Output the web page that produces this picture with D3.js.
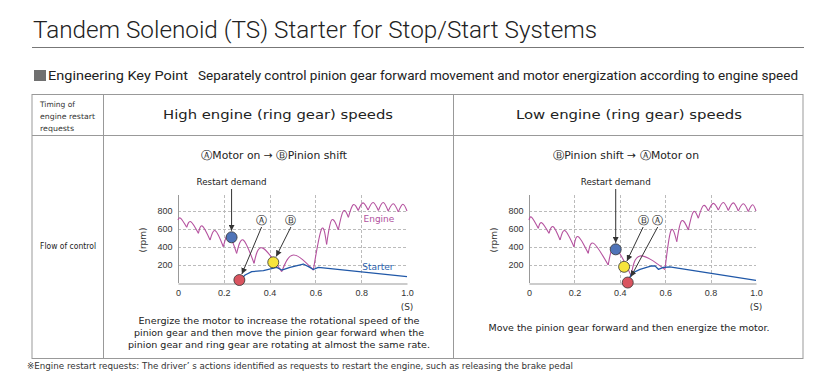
<!DOCTYPE html>
<html>
<head>
<meta charset="utf-8">
<script src="https://cdn.jsdelivr.net/npm/d3@7"></script>
<style>
body { margin: 0; background: #fff; }
svg { display: block; font-family: "DejaVu Sans", "Noto Sans", sans-serif; }
</style>
</head>
<body>
<svg width="835" height="391"></svg>
<script>
var width = 835;
var height = 391;

var xTicks = [0, 0.2, 0.4, 0.6, 0.8, 1.0];
var yTicks = [200, 400, 600, 800];

// engine speed [time (s), rpm]: valley, peak, valley, peak ...
var highEngine = [[0, 700], [0.012, 718], [0.038, 619], [0.056, 681], [0.089, 552], [0.106, 633],
    [0.140, 478], [0.163, 581], [0.198, 403], [0.222, 533], [0.256, 330], [0.285, 478],
    [0.332, 219], [0.368, 390], [0.453, 126], [0.504, 311], [0.591, 144], [0.627, 600],
    [0.649, 430], [0.671, 700], [0.700, 590], [0.722, 800], [0.744, 730], [0.765, 870],
    [0.787, 805], [0.808, 890], [0.830, 810], [0.852, 895], [0.875, 805], [0.896, 895],
    [0.918, 800], [0.940, 880], [0.962, 790], [0.982, 875], [1.0, 800]];
var highStarter = [[0.271, 33], [0.293, 89], [0.322, 126], [0.373, 137], [0.431, 174], [0.453, 144],
    [0.489, 174], [0.547, 211], [0.576, 174], [0.591, 150], [0.613, 174], [1.0, 70]];

var lowEngine = [[0, 700], [0.012, 730], [0.041, 607], [0.056, 670], [0.088, 552], [0.107, 626],
    [0.137, 478], [0.159, 581], [0.198, 403], [0.217, 515], [0.261, 330], [0.285, 440],
    [0.349, 200], [0.380, 390], [0.450, 80], [0.489, 300], [0.599, 150], [0.625, 580],
    [0.651, 459], [0.672, 690], [0.702, 589], [0.724, 790], [0.746, 720], [0.768, 860],
    [0.790, 800], [0.812, 885], [0.834, 810], [0.856, 895], [0.878, 805], [0.900, 890],
    [0.922, 800], [0.944, 880], [0.966, 795], [0.985, 870], [1.0, 800]];
var lowStarter = [[0.435, 5], [0.452, 107], [0.489, 152], [0.540, 189], [0.555, 190], [0.570, 152],
    [0.592, 174], [0.620, 178], [1.0, 30]];

// markers: restart demand (blue), A motor on (red), B pinion shift (yellow)
var highMarkers = { demand: [0.234, 508], A: [0.268, 33], B: [0.416, 230] };
var lowMarkers = { demand: [0.382, 374], A: [0.435, 5], B: [0.419, 180] };
// circled letter label spots [time, rpm]
var highLabels = { A: [0.365, 700], B: [0.493, 700] };
var lowLabels = { A: [0.567, 700], B: [0.503, 700] };

var svg = d3.select('svg');

// arrow head
svg.append('defs').append('marker')
    .attr('id', 'head')
    .attr('viewBox', '0 0 10 10')
    .attr('refX', 10).attr('refY', 5)
    .attr('markerWidth', 6).attr('markerHeight', 6)
    .attr('markerUnits', 'userSpaceOnUse')
    .attr('orient', 'auto')
    .append('path')
    .attr('d', 'M0,0L10,5L0,10z')
    .attr('fill', '#333');

// Title
svg.append('text')
    .attr('x', 33).attr('y', 38)
    .attr('font-family', 'Roboto, "Noto Sans", sans-serif')
    .attr('font-weight', 300)
    .attr('font-size', 24)
    .attr('fill', '#222')
    .attr('textLength', 564).attr('lengthAdjust', 'spacingAndGlyphs')
    .text('Tandem Solenoid (TS) Starter for Stop/Start Systems');
svg.append('line')
    .attr('x1', 32).attr('x2', 804).attr('y1', 47.5).attr('y2', 47.5)
    .attr('stroke', '#777').attr('stroke-width', 1);

// Key point line
svg.append('rect').attr('x', 34).attr('y', 70).attr('width', 12).attr('height', 11).attr('fill', '#707070');
svg.append('text')
    .attr('x', 48).attr('y', 80).attr('font-size', 13).attr('fill', '#222')
    .attr('font-family', 'Roboto, "Noto Sans", sans-serif')
    .attr('textLength', 140).attr('lengthAdjust', 'spacingAndGlyphs')
    .text('Engineering Key Point');
svg.append('text')
    .attr('x', 198).attr('y', 80).attr('font-size', 13).attr('fill', '#222')
    .attr('font-family', 'Roboto, "Noto Sans", sans-serif')
    .attr('textLength', 600).attr('lengthAdjust', 'spacingAndGlyphs')
    .text('Separately control pinion gear forward movement and motor energization according to engine speed');

// Table
var tab = { l: 32, r: 803, t: 94.5, h: 135.5, b: 358.5, c1: 103.5, c2: 453.5 };
var grid = svg.append('g').attr('stroke', '#999').attr('stroke-width', 1);
grid.append('rect').attr('x', tab.l).attr('y', tab.t).attr('width', tab.r - tab.l).attr('height', tab.b - tab.t).attr('fill', 'none');
grid.append('line').attr('x1', tab.l).attr('x2', tab.r).attr('y1', tab.h).attr('y2', tab.h);
grid.append('line').attr('x1', tab.c1).attr('x2', tab.c1).attr('y1', tab.t).attr('y2', tab.b);
grid.append('line').attr('x1', tab.c2).attr('x2', tab.c2).attr('y1', tab.t).attr('y2', tab.b);

[['Timing of', 35], ['engine restart', 55], ['requests', 34]].forEach(function (s, i) {
    svg.append('text').attr('x', 40).attr('y', 107 + i * 12)
        .attr('font-size', 7.5).attr('fill', '#333')
        .attr('textLength', s[1]).attr('lengthAdjust', 'spacingAndGlyphs').text(s[0]);
});
svg.append('text').attr('x', 40).attr('y', 249).attr('font-size', 8.5).attr('fill', '#222')
    .attr('textLength', 56).attr('lengthAdjust', 'spacingAndGlyphs').text('Flow of control');

svg.append('text').attr('x', 278).attr('y', 119).attr('font-size', 13).attr('fill', '#222')
    .attr('text-anchor', 'middle').attr('textLength', 230).attr('lengthAdjust', 'spacingAndGlyphs')
    .text('High engine (ring gear) speeds');
svg.append('text').attr('x', 629).attr('y', 119).attr('font-size', 13).attr('fill', '#222')
    .attr('text-anchor', 'middle').attr('textLength', 226).attr('lengthAdjust', 'spacingAndGlyphs')
    .text('Low engine (ring gear) speeds');

svg.append('text').attr('x', 274).attr('y', 159).attr('font-size', 10.5).attr('fill', '#222')
    .attr('text-anchor', 'middle').attr('textLength', 146).attr('lengthAdjust', 'spacingAndGlyphs')
    .text('\u24B6Motor on \u2192 \u24B7Pinion shift');
svg.append('text').attr('x', 626).attr('y', 159).attr('font-size', 10.5).attr('fill', '#222')
    .attr('text-anchor', 'middle').attr('textLength', 146).attr('lengthAdjust', 'spacingAndGlyphs')
    .text('\u24B7Pinion shift \u2192 \u24B6Motor on');

// Panels
drawPanel(178, 407, highEngine, highStarter, highMarkers, highLabels, true);
drawPanel(529, 756, lowEngine, lowStarter, lowMarkers, lowLabels, false);

function drawPanel(x0, x1, engine, starter, markers, labels, legend) {
    var x = d3.scaleLinear().domain([0, 1]).range([x0, x1]);
    var y = d3.scaleLinear().domain([0, 800]).range([283, 211]);
    var top = 195;
    var g = svg.append('g');

    // dashed grid
    g.selectAll('.hgrid').data(yTicks).enter().append('line')
        .attr('x1', x0).attr('x2', x1)
        .attr('y1', d => y(d) + 0.5).attr('y2', d => y(d) + 0.5)
        .attr('stroke', '#bbb').attr('stroke-dasharray', '3,2');
    g.selectAll('.vgrid').data(xTicks.slice(1, 5)).enter().append('line')
        .attr('x1', d => Math.round(x(d)) + 0.5).attr('x2', d => Math.round(x(d)) + 0.5)
        .attr('y1', y(0)).attr('y2', top)
        .attr('stroke', '#bbb').attr('stroke-dasharray', '3,2');

    // axes
    g.append('g')
        .attr('transform', 'translate(0,' + (y(0) + 0.5) + ')')
        .call(d3.axisBottom(x).tickValues(xTicks).tickSize(0).tickPadding(6)
            .tickFormat(d => d === 0 ? '0' : d.toFixed(1)))
        .call(a => a.select('.domain').attr('stroke', '#999'))
        .call(a => a.selectAll('text').attr('font-size', 9).attr('fill', '#333').attr('font-family', null));
    g.append('g')
        .attr('transform', 'translate(' + (x0 + 0.5) + ',0)')
        .call(d3.axisLeft(y).tickValues(yTicks).tickSize(0).tickPadding(6))
        .call(a => a.select('.domain').remove())
        .call(a => a.selectAll('text').attr('font-size', 9).attr('fill', '#333').attr('font-family', null));
    g.append('line').attr('x1', x0 + 0.5).attr('x2', x0 + 0.5).attr('y1', y(0)).attr('y2', top).attr('stroke', '#999');

    g.append('text').attr('x', x1).attr('y', 310).attr('font-size', 9).attr('fill', '#333')
        .attr('text-anchor', 'middle').text('(S)');
    g.append('text').attr('transform', 'translate(' + (x0 - 32) + ',240) rotate(-90)')
        .attr('font-size', 9).attr('fill', '#333').attr('text-anchor', 'middle').text('(rpm)');

    // engine: humps between cusped valleys
    var hump = d3.line().x(d => x(d[0])).y(d => y(d[1])).curve(d3.curveNatural);
    var humps = [];
    for (var i = 0; i + 2 < engine.length; i += 2) {
        humps.push([engine[i], engine[i + 1], engine[i + 2]]);
    }
    g.selectAll('.engine').data(humps).enter().append('path')
        .attr('d', hump)
        .attr('fill', 'none').attr('stroke', '#b5529f').attr('stroke-width', 1.1);

    var line = d3.line().x(d => x(d[0])).y(d => y(d[1]));
    g.append('path').datum(starter).attr('d', line)
        .attr('fill', 'none').attr('stroke', '#2058a8').attr('stroke-width', 1.3)
        .attr('stroke-linejoin', 'round');

    if (legend) {
        g.append('text').attr('x', x(0.81)).attr('y', y(680)).attr('font-size', 9).attr('fill', '#b0519e').text('Engine');
        g.append('text').attr('x', x(0.805)).attr('y', y(150)).attr('font-size', 9).attr('fill', '#2a5fae').text('Starter');
    }

    var r = 5.5;
    // restart demand
    var dm = markers.demand;
    g.append('text').attr('x', x(dm[0])).attr('y', 185).attr('font-size', 9).attr('fill', '#222')
        .attr('text-anchor', 'middle').attr('textLength', 70).attr('lengthAdjust', 'spacingAndGlyphs')
        .text('Restart demand');
    g.append('line').attr('x1', x(dm[0])).attr('x2', x(dm[0])).attr('y1', 189).attr('y2', y(dm[1]) - r - 1)
        .attr('stroke', '#333').attr('marker-end', 'url(#head)');

    // circled letter labels with arrows
    ['A', 'B'].forEach(function (k) {
        var lx = x(labels[k][0]), ly = y(labels[k][1]);
        var mx = x(markers[k][0]), my = y(markers[k][1]);
        g.append('text').attr('x', lx).attr('y', ly + 4).attr('font-size', 11).attr('fill', '#222')
            .attr('text-anchor', 'middle').text(k === 'A' ? '\u24B6' : '\u24B7');
        var sx = lx, sy = ly + 7;
        var dx = mx - sx, dy = my - sy, len = Math.sqrt(dx * dx + dy * dy);
        g.append('line').attr('x1', sx).attr('y1', sy)
            .attr('x2', mx - dx / len * (r + 1)).attr('y2', my - dy / len * (r + 1))
            .attr('stroke', '#333').attr('marker-end', 'url(#head)');
    });

    var dots = [[markers.demand, '#4f74b8'], [markers.B, '#f6e43c'], [markers.A, '#d9545f']];
    g.selectAll('.dot').data(dots).enter().append('circle')
        .attr('cx', d => x(d[0][0])).attr('cy', d => y(d[0][1])).attr('r', r)
        .attr('fill', d => d[1]).attr('stroke', '#333').attr('stroke-width', 0.8);
}

// Notes under panels
[['Energize the motor to increase the rotational speed of the', 281],
 ['pinion gear and then move the pinion gear forward when the', 290],
 ['pinion gear and ring gear are rotating at almost the same rate.', 302]].forEach(function (s, i) {
    svg.append('text').attr('x', 279).attr('y', 324 + i * 12).attr('font-size', 8.5).attr('fill', '#222')
        .attr('text-anchor', 'middle').attr('textLength', s[1]).attr('lengthAdjust', 'spacingAndGlyphs')
        .text(s[0]);
});
svg.append('text').attr('x', 629).attr('y', 331).attr('font-size', 8.5).attr('fill', '#222')
    .attr('text-anchor', 'middle').attr('textLength', 281).attr('lengthAdjust', 'spacingAndGlyphs')
    .text('Move the pinion gear forward and then energize the motor.');

svg.append('text').attr('x', 27).attr('y', 369).attr('font-size', 8).attr('fill', '#333')
    .attr('textLength', 546).attr('lengthAdjust', 'spacingAndGlyphs')
    .text('\u203BEngine restart requests: The driver\u2019 s actions identified as requests to restart the engine, such as releasing the brake pedal');
</script>
</body>
</html>
